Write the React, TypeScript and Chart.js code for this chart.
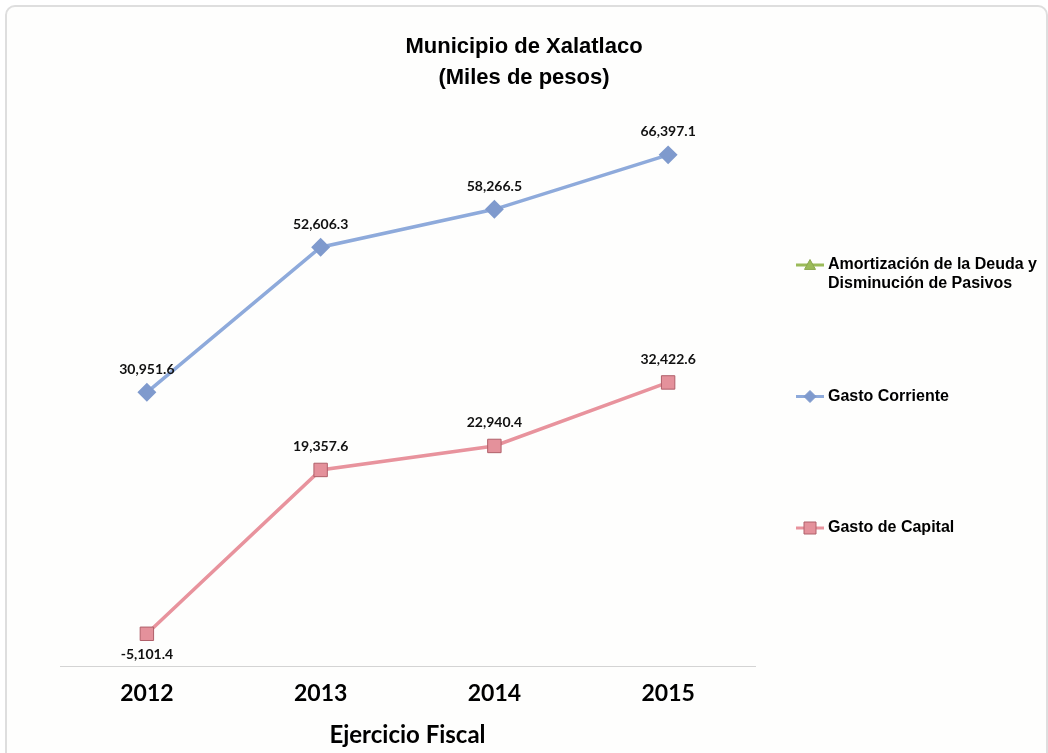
import React, { useEffect, useRef } from 'react';
import { Chart, registerables } from 'chart.js';

Chart.register(...registerables);

// ---- data ----
const years: string[] = ['2012', '2013', '2014', '2015'];
const amortizacion: (number | null)[] = [null, null, null, null];
const gastoCorriente: number[] = [30951.6, 52606.3, 58266.5, 66397.1];
const gastoCapital: number[] = [-5101.4, 19357.6, 22940.4, 32422.6];
const seriesNames: string[] = [
  'Amortización de la Deuda y Disminución de Pasivos',
  'Gasto Corriente',
  'Gasto de Capital',
];
const titleLines: string[] = ['Municipio de Xalatlaco', '(Miles de pesos)'];
const xAxisTitle = 'Ejercicio Fiscal';
const yMin = -10000;
const yMax = 70000;

const ARIAL = "'Liberation Sans', Arial, sans-serif";
const LABEL_FONT = "Lato, 'Open Sans', sans-serif";

const fmt = (v: number) =>
  v.toLocaleString('en-US', { minimumFractionDigits: 1, maximumFractionDigits: 1 });

function drawMarker(ctx: CanvasRenderingContext2D, style: string, x: number, y: number, r: number, fill: string, stroke: string) {
  ctx.save();
  ctx.fillStyle = fill;
  ctx.strokeStyle = stroke;
  ctx.lineWidth = 1;
  ctx.beginPath();
  if (style === 'triangle') {
    ctx.moveTo(x, y - r);
    ctx.lineTo(x + r, y + r * 0.8);
    ctx.lineTo(x - r, y + r * 0.8);
    ctx.closePath();
  } else if (style === 'rectRot') {
    ctx.moveTo(x, y - r);
    ctx.lineTo(x + r, y);
    ctx.lineTo(x, y + r);
    ctx.lineTo(x - r, y);
    ctx.closePath();
  } else {
    ctx.rect(x - r, y - r, 2 * r, 2 * r);
  }
  ctx.fill();
  ctx.stroke();
  ctx.restore();
}

const sideLegend = {
  id: 'sideLegend',
  afterDraw(chart: any, _args: any, opts: any) {
    const ctx: CanvasRenderingContext2D = chart.ctx;
    const x0 = chart.chartArea.right + opts.offsetX;
    ctx.save();
    ctx.font = `bold ${opts.fontSize}px ${ARIAL}`;
    ctx.textBaseline = 'middle';
    ctx.textAlign = 'left';
    chart.data.datasets.forEach((ds: any, i: number) => {
      const y = opts.startY + i * opts.spacing;
      ctx.strokeStyle = ds.borderColor;
      ctx.lineWidth = 3;
      ctx.beginPath();
      ctx.moveTo(x0, y);
      ctx.lineTo(x0 + 28, y);
      ctx.stroke();
      const ms = ds.pointStyle === 'rect' ? 6 : ds.pointStyle === 'rectRot' ? 6 : 5.5;
      drawMarker(ctx, ds.pointStyle, x0 + 14, y, ms, ds.pointBackgroundColor, ds.pointBorderColor);
      // wrap text
      const words = String(ds.label).split(' ');
      const lines: string[] = [];
      let cur = '';
      for (const w of words) {
        const test = cur ? cur + ' ' + w : w;
        if (ctx.measureText(test).width > opts.maxWidth && cur) {
          lines.push(cur);
          cur = w;
        } else cur = test;
      }
      if (cur) lines.push(cur);
      ctx.fillStyle = '#000';
      lines.forEach((ln, k) => ctx.fillText(ln, x0 + 32, y + k * opts.lineGap));
    });
    ctx.restore();
  },
};

const dataLabels = {
  id: 'dataLabels',
  afterDatasetsDraw(chart: any) {
    const ctx: CanvasRenderingContext2D = chart.ctx;
    ctx.save();
    ctx.font = `bold 14px ${LABEL_FONT}`;
    ctx.fillStyle = '#111';
    ctx.textAlign = 'center';
    ctx.textBaseline = 'middle';
    chart.data.datasets.forEach((ds: any, i: number) => {
      const meta = chart.getDatasetMeta(i);
      meta.data.forEach((pt: any, j: number) => {
        const v = ds.data[j];
        if (v === null || v === undefined) return;
        const dy = v < 0 ? 21 : -23;
        ctx.fillText(fmt(v), pt.x, pt.y + dy);
      });
    });
    ctx.restore();
  },
};

export default function App() {
  const ref = useRef<HTMLCanvasElement | null>(null);

  useEffect(() => {
    if (!ref.current) return;
    const chart = new Chart(ref.current, {
      type: 'line',
      data: {
        labels: years,
        datasets: [
          {
            label: seriesNames[0],
            data: amortizacion,
            borderColor: '#9BBB59',
            backgroundColor: '#9BBB59',
            pointBackgroundColor: '#9BBB59',
            pointBorderColor: '#8AA64E',
            pointStyle: 'triangle',
            pointRadius: 6,
            borderWidth: 3.5,
            tension: 0,
          },
          {
            label: seriesNames[1],
            data: gastoCorriente,
            borderColor: '#8EAADB',
            backgroundColor: '#7F9ACD',
            pointBackgroundColor: '#7F9ACD',
            pointBorderColor: '#7F9ACD',
            pointStyle: 'rectRot',
            pointRadius: 7,
            borderWidth: 3.5,
            tension: 0,
          },
          {
            label: seriesNames[2],
            data: gastoCapital,
            borderColor: '#E8939D',
            backgroundColor: '#E4919B',
            pointBackgroundColor: '#E4919B',
            pointBorderColor: '#B0606A',
            pointStyle: 'rect',
            pointRadius: 9.5,
            pointBorderWidth: 1,
            borderWidth: 3.5,
            tension: 0,
          },
        ] as any,
      },
      options: {
        animation: false,
        responsive: false,
        maintainAspectRatio: false,
        layout: { padding: { left: 0, right: 0, top: 0, bottom: 3 } },
        plugins: {
          legend: { display: false },
          tooltip: { enabled: false },
          title: {
            display: true,
            text: titleLines,
            color: '#000',
            font: { family: ARIAL, size: 22, weight: 'bold', lineHeight: 1.38 },
            padding: { top: 32, bottom: 38 },
          },
          sideLegend: {
            offsetX: 41,
            startY: 265,
            spacing: 131.5,
            fontSize: 16,
            lineGap: 19,
            maxWidth: 220,
          },
        } as any,
        scales: {
          x: {
            type: 'category',
            offset: true,
            grid: { display: false, drawTicks: false },
            border: { display: true, color: '#d4d4d4', width: 1 },
            ticks: {
              color: '#000',
              font: { family: LABEL_FONT, size: 23, weight: 'bold' },
              padding: 13,
            },
            title: {
              display: true,
              text: xAxisTitle,
              color: '#000',
              font: { family: LABEL_FONT, size: 24, weight: 'bold' },
              padding: { top: 1, bottom: 0 },
            },
          },
          y: {
            min: yMin,
            max: yMax,
            display: true,
            ticks: { display: false },
            grid: { display: false, drawTicks: false },
            border: { display: false },
            afterFit(s: any) {
              s.width = 60;
            },
          },
          yR: {
            position: 'right',
            min: 0,
            max: 1,
            display: true,
            ticks: { display: false },
            grid: { display: false, drawTicks: false },
            border: { display: false },
            afterFit(s: any) {
              s.width = 293;
            },
          },
        } as any,
      },
      plugins: [dataLabels, sideLegend],
    });
    return () => chart.destroy();
  }, []);

  return (
    <div style={{ position: 'fixed', left: 0, top: 0, width: 1048, height: 753, background: '#ffffff', overflow: 'hidden' }}>
      <div
        style={{
          position: 'absolute',
          left: 5,
          top: 5,
          width: 1039,
          height: 770,
          border: '2px solid #dedede',
          borderRadius: 10,
          background: '#fefefd',
        }}
      />
      <canvas ref={ref} width={1048} height={753} style={{ position: 'absolute', left: 0, top: 0, width: 1048, height: 753 }} />
    </div>
  );
}
